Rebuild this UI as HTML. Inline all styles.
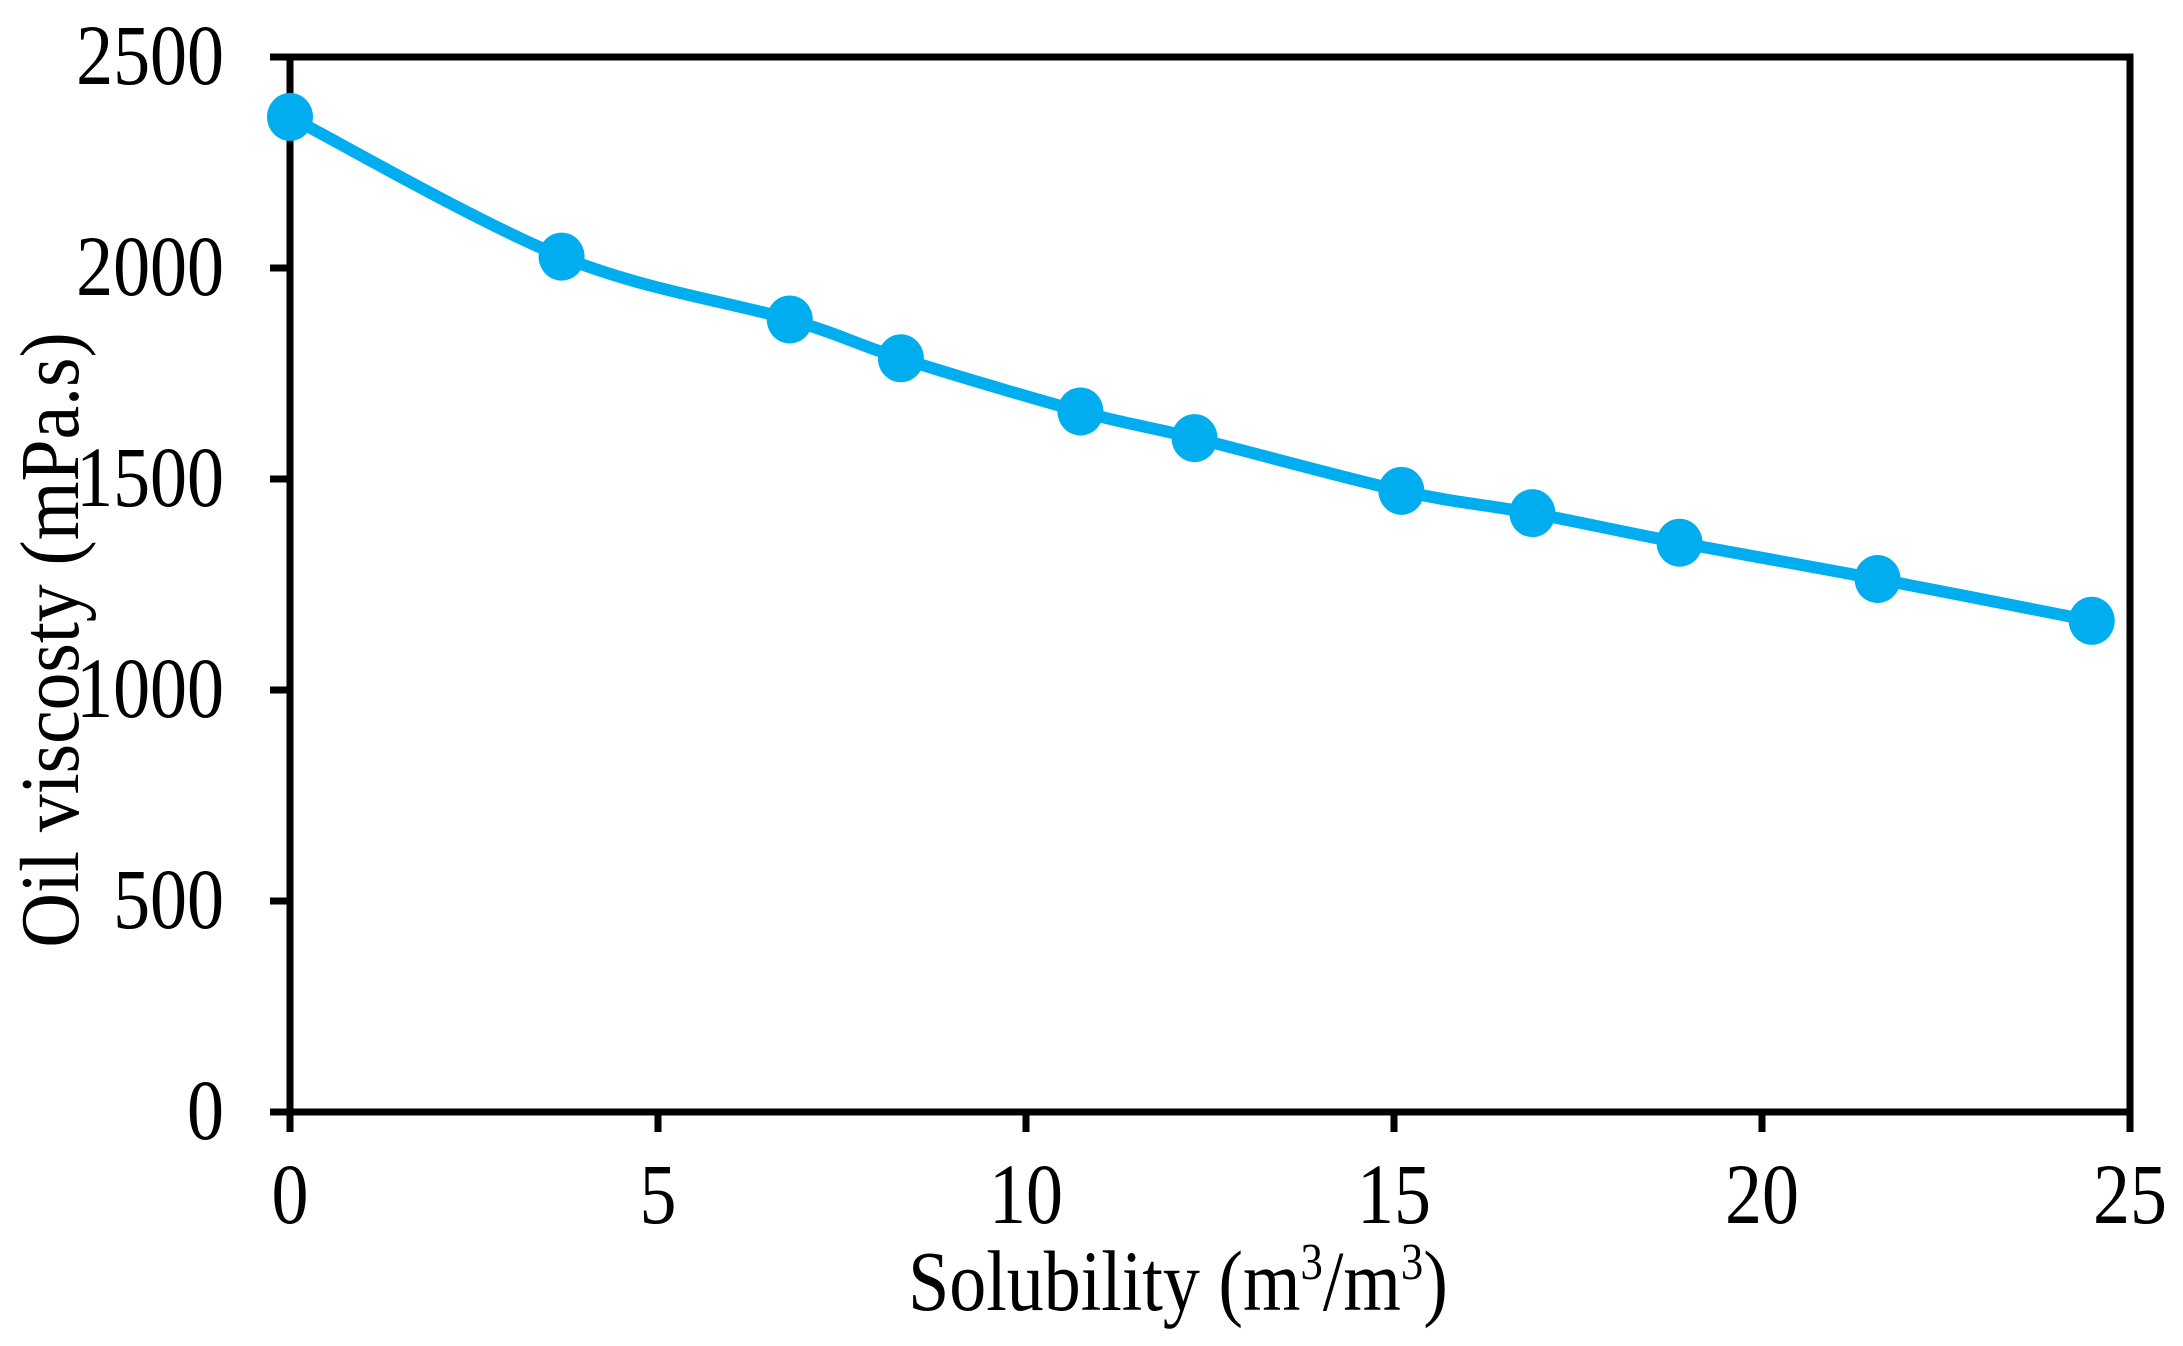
<!DOCTYPE html>
<html><head><meta charset="utf-8"><style>
html,body{margin:0;padding:0;background:#fff;}
svg{display:block;}
text{font-family:"Liberation Serif",serif;fill:#000;}
</style></head><body>
<svg id="chart" width="2183" height="1346" viewBox="0 0 2183 1346" xmlns="http://www.w3.org/2000/svg">
<g id="axes"></g>
<g id="series"></g>
<text transform="translate(1178,1310) scale(0.86,1)" font-size="86" text-anchor="middle">Solubility (m<tspan font-size="52" dy="-31">3</tspan><tspan dy="31">/m</tspan><tspan font-size="52" dy="-31">3</tspan><tspan dy="31">)</tspan></text>
<text transform="translate(78,640) rotate(-90) scale(0.9,1)" font-size="84" text-anchor="middle">Oil viscosty (mPa.s)</text>
</svg>
<script>
const solubility = [0, 3.69, 6.79, 8.30, 10.74, 12.29, 15.10, 16.88, 18.88, 21.57, 24.48];
const viscosity = [2358, 2027, 1878, 1786, 1660, 1597, 1472, 1419, 1349, 1263, 1164];
const xTicks = [0, 5, 10, 15, 20, 25];
const yTicks = [0, 500, 1000, 1500, 2000, 2500];

const NS = "http://www.w3.org/2000/svg";
const X0 = 290, X1 = 2130, Y0 = 1112, Y1 = 57;
const xs = v => X0 + (v - 0) / 25 * (X1 - X0);
const ys = v => Y0 - v / 2500 * (Y0 - Y1);
function mk(tag, attrs, parent) {
  const e = document.createElementNS(NS, tag);
  for (const k in attrs) e.setAttribute(k, attrs[k]);
  parent.appendChild(e);
  return e;
}
const axes = document.getElementById('axes');
const frame = mk('rect', {x: X0, y: Y1, width: X1 - X0, height: Y0 - Y1, fill: 'none', stroke: '#000', 'stroke-width': 7}, axes);


xTicks.forEach(t => {
  const l = mk('line', {x1: xs(t), x2: xs(t), y1: Y0, y2: Y0 + 20, stroke: '#000', 'stroke-width': 7}, axes);
  
  
  const tx = mk('text', {transform: `translate(${xs(t)},1223) scale(0.86,1)`, 'font-size': 86, 'text-anchor': 'middle'}, axes);
  tx.textContent = t;
  
  
});
yTicks.forEach(t => {
  const l = mk('line', {x1: X0 - 20, x2: X0, y1: ys(t), y2: ys(t), stroke: '#000', 'stroke-width': 7}, axes);
  
  
  const tx = mk('text', {transform: `translate(224,${ys(t) + 27}) scale(0.86,1)`, 'font-size': 86, 'text-anchor': 'end'}, axes);
  tx.textContent = t;
  
  
});
const series = document.getElementById('series');
const pts = solubility.map((s, i) => [xs(s), ys(viscosity[i])]);
let d = `M${pts[0][0]},${pts[0][1]}`;
for (let i = 0; i < pts.length - 1; i++) {
  const p0 = pts[Math.max(0, i - 1)], p1 = pts[i], p2 = pts[i + 1], p3 = pts[Math.min(pts.length - 1, i + 2)];
  const c1 = [p1[0] + (p2[0] - p0[0]) / 6, p1[1] + (p2[1] - p0[1]) / 6];
  const c2 = [p2[0] - (p3[0] - p1[0]) / 6, p2[1] - (p3[1] - p1[1]) / 6];
  d += ` C${c1[0]},${c1[1]} ${c2[0]},${c2[1]} ${p2[0]},${p2[1]}`;
}
const path = mk('path', {d: d, fill: 'none', stroke: '#00AEEF', 'stroke-width': 12}, series);


pts.forEach(p => {
  const c = mk('ellipse', {cx: p[0], cy: p[1], rx: 23, ry: 24, fill: '#00AEEF'}, series);
  
  
});
</script>
</body></html>
